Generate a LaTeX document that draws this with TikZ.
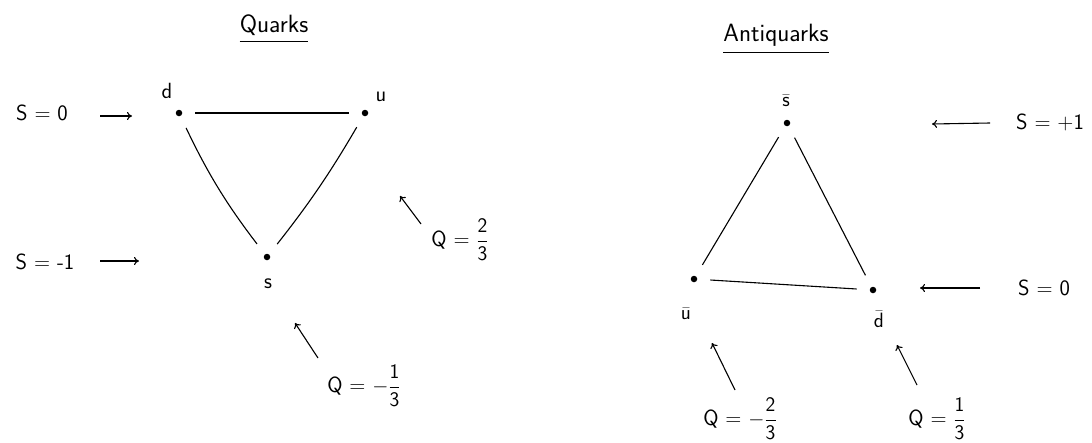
\documentclass[tikz,border=0pt]{standalone}
\usetikzlibrary{arrows.meta}
\begin{document}
\begin{tikzpicture}[x=1pt,y=-1pt,
  dot/.style={circle,fill,inner sep=0pt,minimum size=6.5pt},
  lbl/.style={font=\sffamily\fontsize{22}{26}\selectfont,inner sep=0pt},
  ttl/.style={font=\sffamily\fontsize{25}{30}\selectfont,inner sep=0pt},
  edgeline/.style={line width=1.1pt,shorten <=13pt,shorten >=13pt},
  uline/.style={line width=1.1pt},
  arr/.style={line width=1.1pt,-{To[length=5pt,width=8pt]}}]
\useasboundingbox (0,0) rectangle (1092,442);

% ---------- Quarks ----------
\node[ttl] (qt) at (274,25) {Quarks};
\draw[uline] ([yshift=-6pt]qt.south west) -- ([yshift=-6pt]qt.south east);

\node[dot] (d) at (179,113) {};
\node[dot] (u) at (365,113) {};
\node[dot] (s) at (267,257) {};
\node[lbl] (dl) at (167,91) {d};
\node[lbl] (ul) at (381,97) {u};
\node[lbl] (sl) at (268,284) {s};

\draw[edgeline] (d) -- (u);
\draw[edgeline] (d) to[bend right=6] (s);
\draw[edgeline] (u) to[bend left=4] (s);

\node[lbl] (sq0) at (42,113) {S = 0};
\coordinate (sq0a) at (100,116);
\coordinate (sq0b) at (132,116);
\draw[arr] (sq0a) -- (sq0b);

\node[lbl] (sqm) at (45,262) {S = -1};
\coordinate (sqma) at (100,261);
\coordinate (sqmb) at (139,261);
\draw[arr] (sqma) -- (sqmb);

\node[lbl] (q23) at (460,240) {Q = $\displaystyle\frac{\mathsf{2}}{\mathsf{3}}$};
\coordinate (q23a) at (421,224);
\coordinate (q23b) at (400,196);
\draw[arr] (q23a) -- (q23b);

\node[lbl] (q13) at (364,386) {Q = $\displaystyle-\frac{\mathsf{1}}{\mathsf{3}}$};
\coordinate (q13a) at (318,358);
\coordinate (q13b) at (295,323);
\draw[arr] (q13a) -- (q13b);

% ---------- Antiquarks ----------
\node[ttl] (at) at (776,35) {Antiquarks};
\draw[uline] ([yshift=-6pt]at.south west) -- ([yshift=-6pt]at.south east);

\node[dot] (sb) at (787,123) {};
\node[dot] (ub) at (694,279) {};
\node[dot] (db) at (873,290) {};
\node[lbl] (sbl) at (786,101) {$\bar{\mathsf{s}}$};
\node[lbl] (ubl) at (686,314) {$\bar{\mathsf{u}}$};
\node[lbl] (dbl) at (879,319) {$\bar{\mathsf{d}}$};

\draw[edgeline] (sb) -- (ub);
\draw[edgeline] (sb) -- (db);
\draw[edgeline] (ub) -- (db);

\node[lbl] (sap) at (1050,122) {S = +1};
\coordinate (sapa) at (990,123);
\coordinate (sapb) at (932,124);
\draw[arr] (sapa) -- (sapb);

\node[lbl] (sa0) at (1044,288) {S = 0};
\coordinate (sa0a) at (980,288);
\coordinate (sa0b) at (920,288);
\draw[arr] (sa0a) -- (sa0b);

\node[lbl] (qa23) at (740,419) {Q = $\displaystyle-\frac{\mathsf{2}}{\mathsf{3}}$};
\coordinate (qa23a) at (735,390);
\coordinate (qa23b) at (712,343);
\draw[arr] (qa23a) -- (qa23b);

\node[lbl] (qa13) at (937,419) {Q = $\displaystyle\frac{\mathsf{1}}{\mathsf{3}}$};
\coordinate (qa13a) at (917,385);
\coordinate (qa13b) at (897,345);
\draw[arr] (qa13a) -- (qa13b);
\end{tikzpicture}
\end{document}
